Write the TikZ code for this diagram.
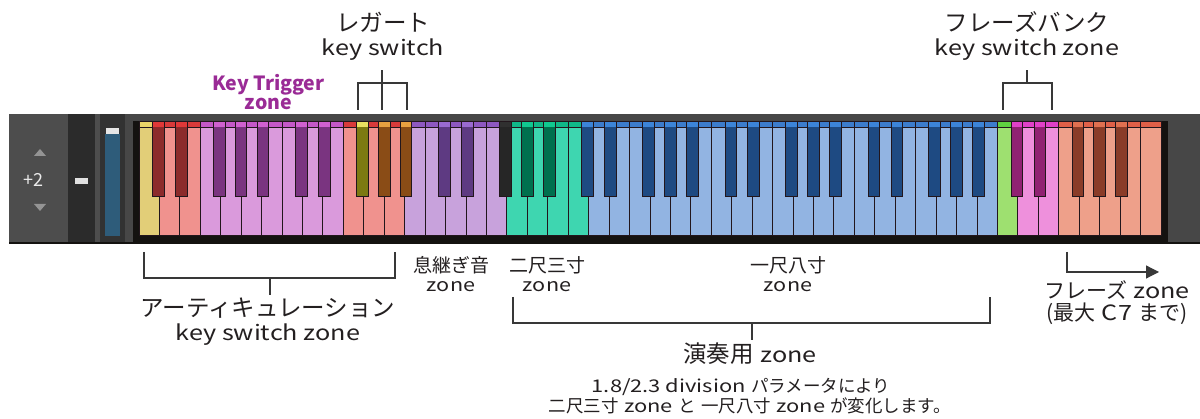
\documentclass[tikz,border=0pt]{standalone}
\usepackage{fontspec}
\newfontfamily\jp{Noto Sans CJK JP}
\newfontfamily\latA{Noto Sans CJK JP}[FakeStretch=1.2]
\newfontfamily\latB{Noto Sans CJK JP}[FakeStretch=1.25]
\newcommand\lt[1]{{\latfam\fontsize{\latsize}{\latsize}\selectfont #1}}
\newcommand\js{\hspace{0.3em}}
\let\latfam\latA
\def\latsize{20}
\usetikzlibrary{arrows.meta}
% text colours
\definecolor{txt}{HTML}{231F20}
\definecolor{ktpurple}{HTML}{9A2B96}
\definecolor{lnc}{HTML}{383838}
% panel colours
\definecolor{panel}{HTML}{474747}
\definecolor{panelL}{HTML}{4D4D4D}
\definecolor{panelD}{HTML}{2B2B2B}
\definecolor{panelM}{HTML}{323232}
\definecolor{frame}{HTML}{141210}
\definecolor{slider}{HTML}{2E5C7A}
\definecolor{keyline}{HTML}{22161C}
% key zone colours: w = white key, tw = white key top band, b = black key, tb = black key top
\definecolor{wY}{HTML}{E2CE78}\definecolor{twY}{HTML}{EAD468}
\definecolor{wR}{HTML}{F0928E}\definecolor{twR}{HTML}{D83A3A}\definecolor{bR}{HTML}{8C2B2B}\definecolor{tbR}{HTML}{E03838}
\definecolor{wL}{HTML}{DA9ADC}\definecolor{twL}{HTML}{C458C8}\definecolor{bL}{HTML}{7A3480}\definecolor{tbL}{HTML}{D060D0}
\definecolor{bO}{HTML}{7C7A12}\definecolor{tbO}{HTML}{E8E060}
\definecolor{bN}{HTML}{8A4C16}\definecolor{tbN}{HTML}{E8A040}
\definecolor{wV}{HTML}{C8A2DC}\definecolor{twV}{HTML}{8E58C0}\definecolor{bV}{HTML}{5E3A82}\definecolor{tbV}{HTML}{9A6AD0}
\definecolor{bK}{HTML}{262626}\definecolor{tbK}{HTML}{303030}
\definecolor{wT}{HTML}{3ED6B0}\definecolor{twT}{HTML}{10B888}\definecolor{bT}{HTML}{00704E}\definecolor{tbT}{HTML}{10C890}
\definecolor{wB}{HTML}{92B4E2}\definecolor{twB}{HTML}{3C7CCC}\definecolor{bB}{HTML}{1E4A82}\definecolor{tbB}{HTML}{3C84D8}
\definecolor{wG}{HTML}{9EE070}\definecolor{twG}{HTML}{60D040}
\definecolor{wP}{HTML}{EE90DC}\definecolor{twP}{HTML}{E040C8}\definecolor{bP}{HTML}{902272}\definecolor{tbP}{HTML}{E040C8}
\definecolor{wS}{HTML}{EEA08A}\definecolor{twS}{HTML}{E06048}\definecolor{bS}{HTML}{8A3C28}\definecolor{tbS}{HTML}{E07050}
\tikzset{
  lbl/.style={font=\jp\fontsize{23.5}{28}\selectfont\def\latsize{21}\let\latfam\latA, text=txt, inner sep=0pt},
  lblp/.style={font=\jp\fontsize{21}{24}\selectfont\def\latsize{21}\let\latfam\latA, text=txt, inner sep=0pt},
  lblm/.style={font=\jp\fontsize{19}{22}\selectfont\def\latsize{18}\let\latfam\latA, text=txt, inner sep=0pt},
  lbls/.style={font=\jp\fontsize{17.5}{20}\selectfont\def\latsize{17.5}\let\latfam\latB, text=txt, inner sep=0pt},
  ktlbl/.style={font=\jp\bfseries\fontsize{19.5}{22}\selectfont, text=ktpurple, inner sep=0pt},
  bracket/.style={draw=lnc, line width=1.2pt},
  kline/.style={draw=keyline, line width=1pt},
}
\def\W{20.44}
\def\KX{139}
\def\KT{122}
\def\KB{236}
\def\BB{197}
\begin{document}
\begin{tikzpicture}[x=1pt,y=-1pt]
\fill[white] (0,0) rectangle (1200,419);
\useasboundingbox (0,0) rectangle (1200,419);
% ---- instrument panel ----
\fill[panel] (9,114) rectangle (1200,243);
\fill[panelL] (9,114) rectangle (68,243);
\fill[panelD] (68,114) rectangle (95,243);
\fill[panelL] (95,114) rectangle (100,243);
\fill[panelM] (100,114) rectangle (125,243);
\fill[frame] (133,121) rectangle (1168,243);
\fill[frame] (9,242) rectangle (1200,244.5);
% left controls
\fill[black!42] (34,156) -- (46,156) -- (40,149) -- cycle;
\fill[black!42] (34,204) -- (46,204) -- (40,211) -- cycle;
\node[font=\jp\fontsize{18}{20}\selectfont, text=black!8, inner sep=0pt] (oct) at (33.5,180) {+2};
\fill[black!12] (75,178) rectangle (88,184);
\fill[slider] (105,134) rectangle (120,236);
\fill[black!10] (106,128) rectangle (119,134);
% ---- white keys ----
\foreach \i/\z in {0/Y,1/R,2/R,3/L,4/L,5/L,6/L,7/L,8/L,9/L,10/R,11/R,12/R,13/V,14/V,15/V,16/V,17/V,18/T,19/T,20/T,21/T,
  22/B,23/B,24/B,25/B,26/B,27/B,28/B,29/B,30/B,31/B,32/B,33/B,34/B,35/B,36/B,37/B,38/B,39/B,40/B,41/B,
  42/G,43/P,44/P,45/S,46/S,47/S,48/S,49/S}{
  \fill[w\z] ({\KX+\i*\W},\KT) rectangle ++(\W,{\KB-\KT});
  \fill[tw\z] ({\KX+\i*\W},\KT) rectangle ++(\W,5);
  \draw[kline] ({\KX+\i*\W},{\KT+5.5}) -- ++(\W,0);
  \draw[kline] ({\KX+\i*\W},\KT) rectangle ++(\W,{\KB-\KT});
}
% ---- black keys ----
\foreach \j/\o/\z in {1/-1/R,2/1.5/R,4/-1.5/L,5/0/L,6/1.5/L,
  8/-1/L,9/1.5/L,11/-1.5/O,12/0/N,13/1.5/N,
  15/-1/V,16/1.5/V,18/-1.5/K,19/0/T,20/1.5/T,
  22/-1/B,23/1.5/B,25/-1.5/B,26/0/B,27/1.5/B,
  29/-1/B,30/1.5/B,32/-1.5/B,33/0/B,34/1.5/B,
  36/-1/B,37/1.5/B,39/-1.5/B,40/0/B,41/1.5/B,
  43/-1/P,44/1.5/P,46/-1.5/S,47/0/S,48/1.5/S}{
  \fill[b\z] ({\KX+\j*\W+\o-5.75},\KT) rectangle ++(11.5,{\BB-\KT});
  \fill[tb\z] ({\KX+\j*\W+\o-5.75},\KT) rectangle ++(11.5,5);
  \draw[kline] ({\KX+\j*\W+\o-5.75},\KT) rectangle ++(11.5,{\BB-\KT});
}
% ---- top labels ----
\node[lbl] (leg1) at (383,22) {レガート};
\node[lbl] (leg2) at (383,50) {\lt{key switch}};
\node[ktlbl] (kt1) at (268.5,85) {Key Trigger};
\node[ktlbl] (kt2) at (268.5,104) {zone};
\node[lbl] (pb1) at (1027,22) {フレーズバンク};
\node[lbl] (pb2) at (1027,50) {\lt{key switch zone}};
\coordinate (legA) at (358,110);
\coordinate (legB) at (382,110);
\coordinate (legC) at (407,110);
\draw[bracket] (legA) |- (legC |- 0,83) -- (legC);
\draw[bracket] (legB) -- (382,70);
\coordinate (pbA) at (1003,110);
\coordinate (pbC) at (1052,110);
\draw[bracket] (pbA) |- (pbC |- 0,83) -- (pbC);
\draw[bracket] (1027,83) -- (1027,70);
% ---- bottom labels ----
\coordinate (artA) at (144,252);
\coordinate (artC) at (395,252);
\draw[bracket] (artA) |- (artC |- 0,278) -- (artC);
\draw[bracket] (270,278) -- (270,295);
\node[lbl] (art1) at (268,308) {アーティキュレーション};
\node[lbl] (art2) at (268,335) {\lt{key switch zone}};
\node[lblm] (br1) at (451,265) {息継ぎ音};
\node[lblm] (br2) at (451,287) {\lt{zone}};
\node[lblm] (n1) at (547,265) {二尺三寸};
\node[lblm] (n2) at (547,287) {\lt{zone}};
\node[lblm] (i1) at (788,265) {一尺八寸};
\node[lblm] (i2) at (788,287) {\lt{zone}};
\coordinate (perA) at (513,297);
\coordinate (perC) at (990,297);
\draw[bracket] (perA) |- (perC |- 0,323) -- (perC);
\draw[bracket] (752,323) -- (752,340);
\node[lbl] (per) at (750,354) {演奏用\js\lt{zone}};
\node[lbls] (d1) at (741,387) {\lt{1.8/2.3 division}\js{}パラメータにより};
\node[lbls] (d2) at (750,406) {二尺三寸\js\lt{zone}\js{}と\js{}一尺八寸\js\lt{zone}\js{}が変化します。};
\coordinate (phA) at (1067,252);
\coordinate (phB) at (1159,272);
\draw[bracket, -{Triangle[length=13pt,width=13pt]}] (phA) |- (phB);
\node[lblp] (ph1) at (1117,290) {フレーズ\js\lt{zone}};
\node[lblp] (ph2) at (1117,314) {(最大\js\lt{C7}\js{}まで)};
\end{tikzpicture}
\end{document}
